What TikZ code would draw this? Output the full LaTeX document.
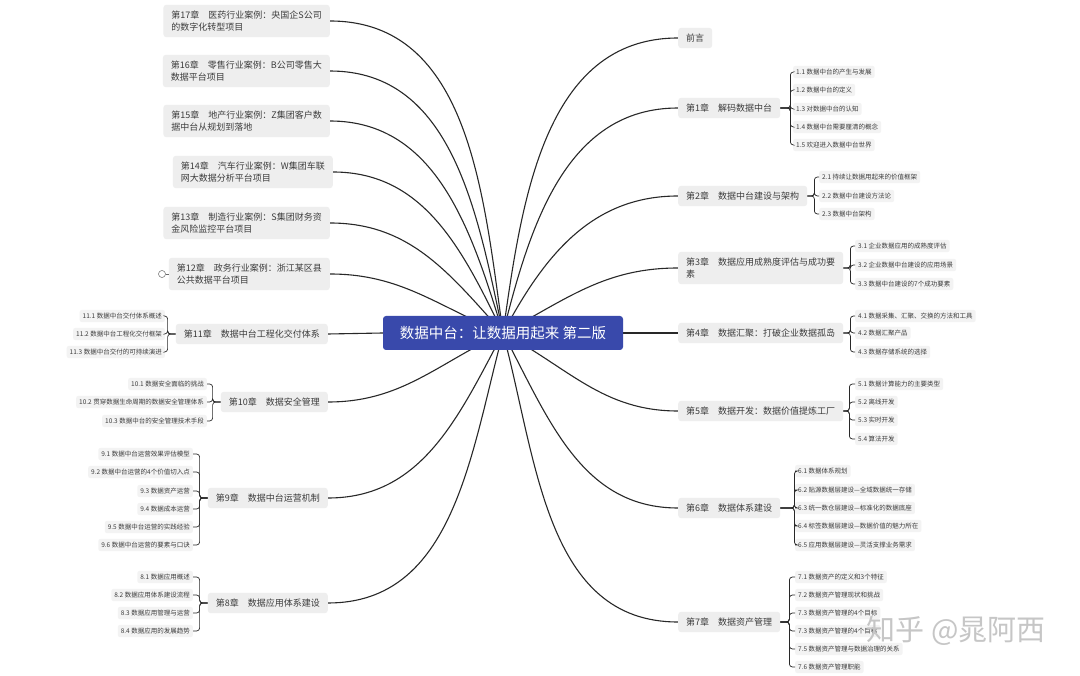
\documentclass[tikz,border=0pt]{standalone}
\usepackage{fontspec}
\setmainfont{Noto Sans CJK SC}
\usetikzlibrary{positioning}
\definecolor{rootblue}{RGB}{57,73,171}
\definecolor{chapfill}{RGB}{238,238,238}
\definecolor{subfill}{RGB}{243,243,243}
\definecolor{inkgray}{RGB}{60,60,60}
\definecolor{wire}{RGB}{40,40,40}
\pgfdeclarelayer{background}
\pgfsetlayers{background,main}

\begin{document}
\begin{tikzpicture}[x=1pt,y=-1pt,
  root/.style={fill=rootblue,text=white,rounded corners=3pt,minimum width=240pt,minimum height=34pt,font=\fontsize{14.5}{17}\selectfont},
  chap/.style={fill=chapfill,text=inkgray,rounded corners=3pt,inner xsep=8pt,inner ysep=6pt,align=left,font=\fontsize{9}{12}\selectfont},
  sub/.style={fill=subfill,text=inkgray,rounded corners=2pt,inner xsep=3pt,inner ysep=3pt,font=\fontsize{6.5}{8}\selectfont},
  branch/.style={draw=wire,line width=1.1pt},
  twig/.style={draw=wire,line width=0.7pt,rounded corners=3pt}
]
\useasboundingbox (0,0) rectangle (1080,676);

\node[root] (root) at (503,333) {数据中台：让数据用起来 第二版};

% right side
\node[chap,anchor=west] (pre) at (678,38) {前言};
\node[chap,anchor=west] (ch1) at (678,108) {第1章　解码数据中台};
\node[chap,anchor=west] (ch2) at (678,196) {第2章　数据中台建设与架构};
\node[chap,anchor=west] (ch3) at (678,268) {第3章　数据应用成熟度评估与成功要\\素};
\node[chap,anchor=west] (ch4) at (678,333) {第4章　数据汇聚：打破企业数据孤岛};
\node[chap,anchor=west] (ch5) at (678,411) {第5章　数据开发：数据价值提炼工厂};
\node[chap,anchor=west] (ch6) at (678,508) {第6章　数据体系建设};
\node[chap,anchor=west] (ch7) at (678,622) {第7章　数据资产管理};

% left side
\node[chap,anchor=east] (ch17) at (330,21) {第17章　医药行业案例：央国企S公司\\的数字化转型项目};
\node[chap,anchor=east] (ch16) at (330,71) {第16章　零售行业案例：B公司零售大\\数据平台项目};
\node[chap,anchor=east] (ch15) at (330,121) {第15章　地产行业案例：Z集团客户数\\据中台从规划到落地};
\node[chap,anchor=east] (ch14) at (333,172) {第14章　汽车行业案例：W集团车联\\网大数据分析平台项目};
\node[chap,anchor=east] (ch13) at (330,223) {第13章　制造行业案例：S集团财务资\\金风险监控平台项目};
\node[chap,anchor=east] (ch12) at (330,274) {第12章　政务行业案例：浙江某区县\\公共数据平台项目};
\node[chap,anchor=east] (ch11) at (328,334) {第11章　数据中台工程化交付体系};
\node[chap,anchor=east] (ch10) at (328,402) {第10章　数据安全管理};
\node[chap,anchor=east] (ch9) at (328,498) {第9章　数据中台运营机制};
\node[chap,anchor=east] (ch8) at (328,603) {第8章　数据应用体系建设};

\node[draw=wire!70,circle,inner sep=0pt,minimum size=7pt,line width=0.5pt] (fold) at (162,274) {};

% sections, right
\node[sub,anchor=west] (s11) at (793,72) {1.1 数据中台的产生与发展};
\node[sub,anchor=west] (s12) at (793,90) {1.2 数据中台的定义};
\node[sub,anchor=west] (s13) at (793,109) {1.3 对数据中台的认知};
\node[sub,anchor=west] (s14) at (793,127) {1.4 数据中台需要厘清的概念};
\node[sub,anchor=west] (s15) at (793,145) {1.5 欢迎进入数据中台世界};

\node[sub,anchor=west] (s21) at (819,177) {2.1 持续让数据用起来的价值框架};
\node[sub,anchor=west] (s22) at (819,196) {2.2 数据中台建设方法论};
\node[sub,anchor=west] (s23) at (819,214) {2.3 数据中台架构};

\node[sub,anchor=west] (s31) at (855,246) {3.1 企业数据应用的成熟度评估};
\node[sub,anchor=west] (s32) at (855,265) {3.2 企业数据中台建设的应用场景};
\node[sub,anchor=west] (s33) at (855,284) {3.3 数据中台建设的7个成功要素};

\node[sub,anchor=west] (s41) at (855,316) {4.1 数据采集、汇聚、交换的方法和工具};
\node[sub,anchor=west] (s42) at (855,333) {4.2 数据汇聚产品};
\node[sub,anchor=west] (s43) at (855,352) {4.3 数据存储系统的选择};

\node[sub,anchor=west] (s51) at (855,384) {5.1 数据计算能力的主要类型};
\node[sub,anchor=west] (s52) at (855,402) {5.2 离线开发};
\node[sub,anchor=west] (s53) at (855,420) {5.3 实时开发};
\node[sub,anchor=west] (s54) at (855,439) {5.4 算法开发};

\node[sub,anchor=west] (s61) at (795,471) {6.1 数据体系规划};
\node[sub,anchor=west] (s62) at (795,490) {6.2 贴源数据层建设—全域数据统一存储};
\node[sub,anchor=west] (s63) at (795,508) {6.3 统一数仓层建设—标准化的数据底座};
\node[sub,anchor=west] (s64) at (795,526) {6.4 标签数据层建设—数据价值的魅力所在};
\node[sub,anchor=west] (s65) at (795,545) {6.5 应用数据层建设—灵活支撑业务需求};

\node[sub,anchor=west] (s71) at (795,577) {7.1 数据资产的定义和3个特征};
\node[sub,anchor=west] (s72) at (795,595) {7.2 数据资产管理现状和挑战};
\node[sub,anchor=west] (s73) at (795,613) {7.3 数据资产管理的4个目标};
\node[sub,anchor=west] (s74) at (795,631) {7.3 数据资产管理的4个目标};
\node[sub,anchor=west] (s75) at (795,649) {7.5 数据资产管理与数据治理的关系};
\node[sub,anchor=west] (s76) at (795,667) {7.6 数据资产管理职能};

% sections, left
\node[sub,anchor=east] (s111) at (165,316) {11.1 数据中台交付体系概述};
\node[sub,anchor=east] (s112) at (165,334) {11.2 数据中台工程化交付框架};
\node[sub,anchor=east] (s113) at (165,352) {11.3 数据中台交付的可持续演进};

\node[sub,anchor=east] (s101) at (207,384) {10.1 数据安全面临的挑战};
\node[sub,anchor=east] (s102) at (207,402) {10.2 贯穿数据生命周期的数据安全管理体系};
\node[sub,anchor=east] (s103) at (207,421) {10.3 数据中台的安全管理技术手段};

\node[sub,anchor=east] (s91) at (193,454) {9.1 数据中台运营效果评估模型};
\node[sub,anchor=east] (s92) at (193,472) {9.2 数据中台运营的4个价值切入点};
\node[sub,anchor=east] (s93) at (193,491) {9.3 数据资产运营};
\node[sub,anchor=east] (s94) at (193,509) {9.4 数据成本运营};
\node[sub,anchor=east] (s95) at (193,527) {9.5 数据中台运营的实践经验};
\node[sub,anchor=east] (s96) at (193,545) {9.6 数据中台运营的要素与口诀};

\node[sub,anchor=east] (s81) at (193,577) {8.1 数据应用概述};
\node[sub,anchor=east] (s82) at (193,595) {8.2 数据应用体系建设流程};
\node[sub,anchor=east] (s83) at (193,613) {8.3 数据应用管理与运营};
\node[sub,anchor=east] (s84) at (193,631) {8.4 数据应用的发展趋势};

\begin{pgfonlayer}{background}
\fill[white] (0,0) rectangle (1080,676);
% chapters from the root
\draw[branch] (root.center) to[out=82,in=180] (pre.west);
\draw[branch] (root.center) to[out=76,in=180] (ch1.west);
\draw[branch] (root.center) to[out=62,in=180] (ch2.west);
\draw[branch] (root.center) to[out=28,in=180] (ch3.west);
\draw[branch] (root.east) -- (ch4.west);
\draw[branch] (root.center) to[out=-28,in=180] (ch5.west);
\draw[branch] (root.center) to[out=-62,in=180] (ch6.west);
\draw[branch] (root.center) to[out=-75,in=180] (ch7.west);
\draw[branch] (root.center) to[out=98,in=0] (ch17.east);
\draw[branch] (root.center) to[out=102,in=0] (ch16.east);
\draw[branch] (root.center) to[out=107,in=0] (ch15.east);
\draw[branch] (root.center) to[out=116,in=0] (ch14.east);
\draw[branch] (root.center) to[out=132,in=0] (ch13.east);
\draw[branch] (root.center) to[out=158,in=0] (ch12.east);
\draw[branch] (root.west) -- (ch11.east);
\draw[branch] (root.center) to[out=205,in=0] (ch10.east);
\draw[branch] (root.center) to[out=242,in=0] (ch9.east);
\draw[branch] (root.center) to[out=255,in=0] (ch8.east);
\end{pgfonlayer}

% brackets
\foreach \s in {s11,s12,s13,s14,s15} \draw[twig] (ch1.east) -- ++(10,0) |- (\s.west);
\foreach \s in {s21,s22,s23} \draw[twig] (ch2.east) -- ++(7,0) |- (\s.west);
\foreach \s in {s31,s32,s33} \draw[twig] (ch3.east) -- ++(7,0) |- (\s.west);
\foreach \s in {s41,s42,s43} \draw[twig] (ch4.east) -- ++(7,0) |- (\s.west);
\foreach \s in {s51,s52,s53,s54} \draw[twig] (ch5.east) -- ++(6,0) |- (\s.west);
\foreach \s in {s61,s62,s63,s64,s65} \draw[twig] (ch6.east) -- ++(14,0) |- (\s.west);
\foreach \s in {s71,s72,s73,s74,s75,s76} \draw[twig] (ch7.east) -- ++(9,0) |- (\s.west);
\foreach \s in {s111,s112,s113} \draw[twig] (ch11.west) -- ++(-8,0) |- (\s.east);
\foreach \s in {s101,s102,s103} \draw[twig] (ch10.west) -- ++(-8,0) |- (\s.east);
\foreach \s in {s91,s92,s93,s94,s95,s96} \draw[twig] (ch9.west) -- ++(-8,0) |- (\s.east);
\foreach \s in {s81,s82,s83,s84} \draw[twig] (ch8.west) -- ++(-8,0) |- (\s.east);
\draw[wire!70,line width=0.5pt] (fold.east) -- (ch12.west);

\node[text=gray!45,font=\fontsize{29}{32}\selectfont] (mark) at (956,631) {知乎 @晁阿西};
\end{tikzpicture}
\end{document}
